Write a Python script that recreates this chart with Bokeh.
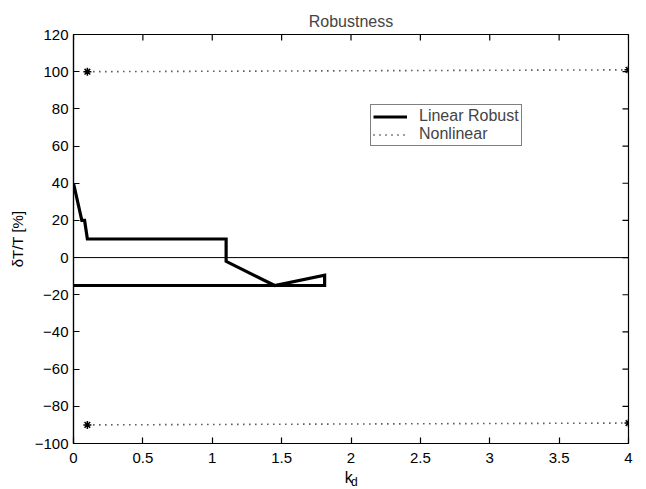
from bokeh.plotting import figure
from bokeh.models import Legend, LegendItem, Range1d, FixedTicker, LinearAxis
from bokeh.embed import file_html
from bokeh.resources import INLINE

# data
lin_x = [0.0, 0.06, 0.08, 0.10, 1.10, 1.10, 1.45, 1.81, 1.81, 0.0]
lin_y = [40, 20, 20, 10, 10, -2, -15, -9.5, -15, -15]
nl_top_x = [0.1, 4.0]
nl_top_y = [100, 101]
nl_bot_x = [0.1, 4.0]
nl_bot_y = [-90, -89]
zero_x = [0, 4]
zero_y = [0, 0]
x_ticks = [0, 0.5, 1, 1.5, 2, 2.5, 3, 3.5, 4]
x_labels = ["0", "0.5", "1", "1.5", "2", "2.5", "3", "3.5", "4"]
y_ticks = [-100, -80, -60, -40, -20, 0, 20, 40, 60, 80, 100, 120]
y_labels = ["\u2212100", "\u221280", "\u221260", "\u221240", "\u221220", "0", "20", "40", "60", "80", "100", "120"]
x_min, x_max = 0, 4
y_min, y_max = -100, 120

FONT = "Liberation Sans"

p = figure(width=646, height=489, output_backend="svg", toolbar_location=None,
           x_range=Range1d(x_min, x_max), y_range=Range1d(y_min, y_max),
           title="Robustness",
           min_border_left=73, min_border_right=18, min_border_top=34, min_border_bottom=46)
p.frame_width = 555
p.frame_height = 409
p.title.align = "center"
p.title.text_font = FONT
p.title.text_font_style = "normal"
p.title.text_font_size = "16px"
p.title.offset = 0
p.title.standoff = 10
p.grid.visible = False
p.outline_line_color = "black"
p.outline_line_width = 1.2

p.xaxis.ticker = FixedTicker(ticks=x_ticks)
p.xaxis.major_label_overrides = {t: l for t, l in zip(x_ticks, x_labels)}
p.yaxis.ticker = FixedTicker(ticks=y_ticks)
p.yaxis.major_label_overrides = {t: l for t, l in zip(y_ticks, y_labels)}
p.xaxis.major_label_standoff = 9
p.yaxis.major_label_standoff = 5

# axis titles (k with subscript d)
p.yaxis.axis_label = "\u03b4T/T [%]"
p.yaxis.axis_label_standoff = 6
p.xaxis.axis_label = "k\u00a0"
p.xaxis.axis_label_standoff = 3

for ax in p.axis:
    ax.major_tick_in = 6
    ax.major_tick_out = 0
    ax.minor_tick_in = 0
    ax.minor_tick_out = 0
    ax.axis_line_color = "black"
    ax.axis_line_width = 1.2
    ax.major_tick_line_color = "black"
    ax.major_tick_line_width = 1.2
    ax.major_label_text_font = FONT
    ax.major_label_text_font_size = "15px"
    ax.major_label_text_color = "black"
    ax.axis_label_text_font = FONT
    ax.axis_label_text_font_style = "normal"
    ax.axis_label_text_font_size = "16px"
    ax.axis_label_text_color = "black"
p.yaxis.axis_label_text_font_size = "15px"

sub_ax = LinearAxis(ticker=FixedTicker(ticks=[]), axis_line_color=None,
                    major_tick_line_color=None, minor_tick_line_color=None,
                    axis_label="\u00a0\u00a0d", axis_label_standoff=-14,
                    axis_label_text_font=FONT, axis_label_text_font_style="normal",
                    axis_label_text_font_size="12px",
                    axis_label_text_color="black")
p.add_layout(sub_ax, "below")

# inward ticks on the top and right edges of the box
p.scatter(x_ticks, [y_max] * len(x_ticks), marker="dash", angle=1.5708, size=12,
          line_color="black", line_width=1.2)
p.scatter([x_max] * len(y_ticks), y_ticks, marker="dash", size=12,
          line_color="black", line_width=1.2)

r_zero = p.line(zero_x, zero_y, line_color="black", line_width=1)
r_lin = p.line(lin_x, lin_y, line_color="black", line_width=3.2, line_join="miter")
r_nt = p.line(nl_top_x, nl_top_y, line_color="black", line_width=1.6, line_dash="1 5")
p.scatter(nl_top_x, nl_top_y, marker="asterisk", size=8, line_color="black", line_width=1.5)
r_nb = p.line(nl_bot_x, nl_bot_y, line_color="black", line_width=1.6, line_dash="1 5")
p.scatter(nl_bot_x, nl_bot_y, marker="asterisk", size=8, line_color="black", line_width=1.5)

legend = Legend(items=[LegendItem(label="Linear Robust", renderers=[r_lin]),
                       LegendItem(label="Nonlinear", renderers=[r_nt])],
                location=(297, 297))
legend.label_text_font = FONT
legend.label_text_font_size = "16px"
legend.border_line_color = "black"
legend.border_line_width = 1
legend.padding = 2
legend.spacing = 0
legend.margin = 0
legend.glyph_width = 34
legend.glyph_height = 13
legend.label_height = 13
legend.label_standoff = 12
p.add_layout(legend, "center")

open("out.html", "w").write(file_html(p, INLINE))
